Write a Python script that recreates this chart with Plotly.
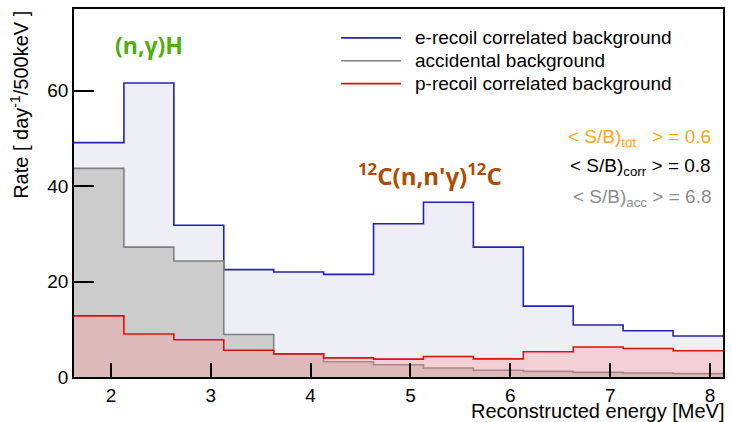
import plotly.graph_objects as go

# ---- data ----
bin_edges = [1.63, 2.13, 2.63, 3.13, 3.63, 4.13, 4.63, 5.13, 5.63, 6.13, 6.63, 7.13, 7.63, 8.13]
e_recoil = [49.1, 61.6, 31.8, 22.5, 22.0, 21.5, 32.1, 36.6, 27.2, 14.85, 10.9, 9.7, 8.6]
accidental = [43.7, 27.2, 24.3, 8.9, 4.85, 3.2, 2.56, 1.87, 1.4, 1.17, 0.96, 0.83, 0.7]
p_recoil = [12.8, 9.0, 7.8, 5.6, 4.85, 4.0, 3.75, 4.3, 3.8, 5.3, 6.3, 5.97, 5.5]

names = ["e-recoil correlated background", "accidental background", "p-recoil correlated background"]
line_colors = ["#2323b4", "#808080", "#dd1111"]
fill_colors = ["rgb(238,238,247)", "rgb(204,204,204)", "rgba(255,150,150,0.35)"]
series = [e_recoil, accidental, p_recoil]

FONT = "Liberation Sans, Arial, sans-serif"
L, R, T, B, W, H = 74, 7, 7, 45, 732, 422
PW, PH = W - L - R, H - T - B


def px(x):
    return (x - L) / PW


def py(y):
    return (H - B - y) / PH


fig = go.Figure()
for name, vals, lc, fc in zip(names, series, line_colors, fill_colors):
    fig.add_trace(go.Scatter(
        x=bin_edges, y=vals + [vals[-1]], mode="lines", line_shape="hv", name=name,
        line=dict(color=lc, width=1.6), fill="tozeroy", fillcolor=fc,
        showlegend=False, hoverinfo="skip"))

fig.update_layout(
    width=W, height=H,
    margin=dict(l=L, r=R, t=T, b=B),
    paper_bgcolor="white", plot_bgcolor="white",
    font=dict(family=FONT, size=19, color="black"),
    showlegend=False,
    xaxis=dict(range=[1.63, 8.13], tickvals=[2, 3, 4, 5, 6, 7, 8],
               ticks="inside", ticklen=14, tickwidth=1.5, tickcolor="black",
               showline=True, linecolor="black", linewidth=1.5, mirror=True,
               showgrid=False, zeroline=False, tickfont=dict(size=19)),
    yaxis=dict(range=[0, 77.1], tickvals=[0, 20, 40, 60],
               ticks="inside", ticklen=20, tickwidth=1.5, tickcolor="black",
               showline=True, linecolor="black", linewidth=1.5, mirror=True,
               showgrid=False, zeroline=False, tickfont=dict(size=19)),
)

annos = [
    dict(text="Reconstructed energy [MeV]", x=1.0, y=-0.058, xref="paper", yref="paper",
         xanchor="right", yanchor="top", xshift=3, showarrow=False, font=dict(size=20)),
    dict(text="Rate [ day<sup>-1</sup>/500keV ]", x=-0.085, y=1.0, xref="paper", yref="paper",
         xanchor="center", yanchor="top", textangle=-90, showarrow=False, font=dict(size=20)),
    dict(text="<b>(n,γ)H</b>", x=2.38, y=69.5, xref="x", yref="y", showarrow=False,
         font=dict(family="Open Sans, sans-serif", size=23, color="#4caf0f")),
    dict(text="<b><sup>12</sup>C(n,n'γ)<sup>12</sup>C</b>", x=5.2, y=42.5, xref="x", yref="y",
         showarrow=False, font=dict(family="Open Sans, sans-serif", size=24, color="#b04a00")),
    dict(text="< S/B)<sub>tot</sub>   > = 0.6", x=8.03, y=50.1, xref="x", yref="y",
         xanchor="right", showarrow=False, font=dict(size=19, color="#ffa31a")),
    dict(text="< S/B)<sub>corr</sub> > = 0.8", x=8.03, y=43.9, xref="x", yref="y",
         xanchor="right", showarrow=False, font=dict(size=19, color="black")),
    dict(text="< S/B)<sub>acc</sub> > = 6.8", x=8.03, y=37.6, xref="x", yref="y",
         xanchor="right", showarrow=False, font=dict(size=19, color="#8c8c8c")),
]

# ROOT-style legend: line sample + text
shapes = []
legend_rows = [36, 59, 82]
for name, lc, ry in zip(names, line_colors, legend_rows):
    shapes.append(dict(type="line", xref="paper", yref="paper",
                       x0=px(342), x1=px(402), y0=py(ry), y1=py(ry),
                       line=dict(color=lc, width=1.6)))
    annos.append(dict(text=name, x=px(414), y=py(ry), xref="paper", yref="paper",
                      xanchor="left", yanchor="middle", showarrow=False,
                      font=dict(size=19, color="black")))

fig.update_layout(annotations=annos, shapes=shapes)

fig.write_html("out.html", config={"displayModeBar": False},
               post_script="document.body.style.margin='0px';")
